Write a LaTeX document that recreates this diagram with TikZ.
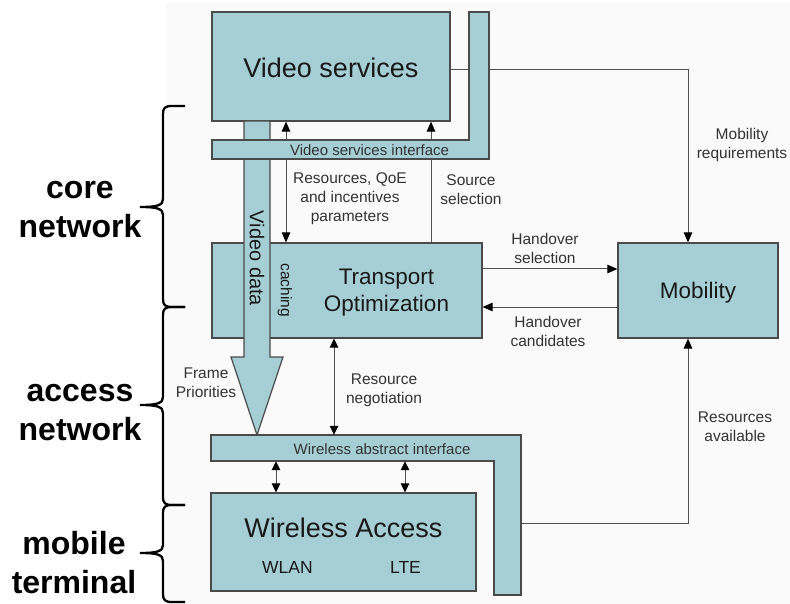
\documentclass[tikz,border=0pt]{standalone}
\usepackage{fontspec}
\setmainfont{Liberation Sans}
\usetikzlibrary{arrows.meta}
\definecolor{boxfill}{HTML}{A6CFD5}
\definecolor{boxline}{HTML}{4A4A4A}
\definecolor{bggray}{HTML}{FAFAFA}
\definecolor{lblcol}{HTML}{333333}
\definecolor{wirecol}{HTML}{505050}
\begin{document}
\begin{tikzpicture}[x=1pt,y=-1pt,
  box/.style={draw=boxline, line width=1.2pt, fill=boxfill, inner sep=0pt},
  shapeline/.style={draw=boxline, line width=1.2pt, fill=boxfill},
  lab/.style={text=lblcol, font=\fontsize{15.5}{19}\selectfont, align=center, inner sep=0pt},
  iflab/.style={text=lblcol, font=\fontsize{15}{17}\selectfont, inner sep=0pt},
  bigtxt/.style={text=black!90, font=\fontsize{27}{32}\selectfont, inner sep=0pt},
  midtxt/.style={text=black!90, font=\fontsize{22.5}{27}\selectfont, align=center, inner sep=0pt},
  sidelab/.style={text=black, font=\bfseries\fontsize{32}{39}\selectfont, align=center, inner sep=0pt},
  wire/.style={draw=wirecol, line width=1pt},
  tip/.style={-{Triangle[length=10pt,width=8.5pt,color=black]}},
  dtip/.style={{Triangle[length=9pt,width=8.5pt,color=black]}-{Triangle[length=9pt,width=8.5pt,color=black]}},
  brace/.style={draw=black, line width=2.3pt},
  ghost/.style={inner sep=0pt}
]
\useasboundingbox (0,0) rectangle (790,604);
\fill[white] (0,0) rectangle (790,604);
\fill[bggray] (166,2) rectangle (790,604);

% column / row helpers
\coordinate (xa) at (286,0);
\coordinate (xb) at (431,0);
\coordinate (xm) at (688,0);
\coordinate (xr) at (334,0);
\coordinate (xw1) at (276,0);
\coordinate (xw2) at (405,0);
\coordinate (yvm) at (0,70);
\coordinate (yhs) at (0,269);
\coordinate (yhc) at (0,307);
\coordinate (yra) at (0,523);

% main boxes
\node[box, minimum width=238pt, minimum height=109pt] (vs) at (331,66.5) {};
\node[bigtxt] (vst) at (331,68) {Video services};
\node[box, minimum width=270pt, minimum height=95pt] (to) at (347,290.5) {};
\node[box, minimum width=160pt, minimum height=95pt] (mob) at (698,290.5) {};
\node[midtxt] (mobt) at (698,293) {Mobility};
\node[box, minimum width=265pt, minimum height=98pt] (wa) at (343.5,542) {};
\node[bigtxt] (wat) at (343.5,528) {Wireless Access};
\node[text=black!90, font=\fontsize{17.5}{20}\selectfont, inner sep=0pt] (wlan) at (287.5,567) {WLAN};
\node[text=black!90, font=\fontsize{17.5}{20}\selectfont, inner sep=0pt] (lte) at (405.5,567) {LTE};

% video services -> mobility (under the interface bar)
\draw[wire,tip] (vs.east |- yvm) -- (xm |- yvm) -- (xm |- mob.north);

% video data arrow
\path[shapeline] (244,121) -- (270,121) -- (270,357) -- (283,357) -- (257,435) -- (231,357) -- (244,357) -- cycle;
\node[text=black!90, font=\fontsize{20}{24}\selectfont, inner sep=0pt, rotate=-90] (vdata) at (257,258.5) {Video data};

% video services interface (L shape)
\node[ghost, minimum width=277pt, minimum height=19pt] (vsi) at (350.5,149.5) {};
\path[shapeline] (212,140) -- (469,140) -- (469,12) -- (489,12) -- (489,159) -- (212,159) -- cycle;
\node[iflab] (vsit) at (369.5,150) {Video services interface};

% wireless abstract interface (L shape)
\node[ghost, minimum width=310pt, minimum height=26pt] (wai) at (366,448) {};
\node[ghost, minimum width=27pt, minimum height=160pt] (waib) at (507.5,515) {};
\path[shapeline] (211,435) -- (521,435) -- (521,595) -- (494,595) -- (494,461) -- (211,461) -- cycle;
\node[iflab] (wait) at (382,449) {Wireless abstract interface};

% transport optimization texts
\node[midtxt] (tot) at (386.5,293) {Transport\\Optimization};
\node[text=black!90, font=\fontsize{15.5}{19}\selectfont, inner sep=0pt, rotate=-90] (cach) at (285,290) {caching};

% connectors
\draw[wire,tip] (xa |- vsi.north) -- (xa |- vs.south);
\draw[wire,tip] (xa |- vsi.south) -- (xa |- to.north);
\draw[wire,tip] (xb |- vsi.north) -- (xb |- vs.south);
\draw[wire] (xb |- vsi.south) -- (xb |- to.north);
\draw[wire,tip] (to.east |- yhs) -- (mob.west |- yhs);
\draw[wire,tip] (mob.west |- yhc) -- (to.east |- yhc);
\draw[wire,dtip] (xr |- to.south) -- (xr |- wai.north);
\draw[wire,dtip] (xw1 |- wai.south) -- (xw1 |- wa.north);
\draw[wire,dtip] (xw2 |- wai.south) -- (xw2 |- wa.north);
\draw[wire,tip] (waib.east |- yra) -- (xm |- yra) -- (xm |- mob.south);

% labels
\node[lab] (l1) at (350,199) {Resources, QoE\\and incentives\\parameters};
\node[lab] (l2) at (471,190) {Source\\selection};
\node[lab] (l3) at (742,144.5) {Mobility\\requirements};
\node[lab] (l4) at (545,248) {Handover\\selection};
\node[lab] (l5) at (548,331) {Handover\\candidates};
\node[lab] (l6) at (206,382.5) {Frame\\Priorities};
\node[lab] (l7) at (384,390) {Resource\\negotiation};
\node[lab] (l8) at (735,426.5) {Resources\\available};

% braces
\draw[brace] (185,106) -- (172,106) .. controls (165,106) and (163,108) .. (163,114) -- (163,199) .. controls (163,205) and (158,207) .. (140,207) .. controls (158,207) and (163,209) .. (163,215) -- (163,299) .. controls (163,305) and (165,307) .. (172,307) -- (185,307);
\draw[brace] (185,307) -- (172,307) .. controls (165,307) and (163,309) .. (163,315) -- (163,397) .. controls (163,403) and (158,405) .. (140,405) .. controls (158,405) and (163,407) .. (163,413) -- (163,497) .. controls (163,503) and (165,505) .. (172,505) -- (185,505);
\draw[brace] (185,505) -- (172,505) .. controls (165,505) and (163,507) .. (163,513) -- (163,545) .. controls (163,551) and (158,553) .. (140,553) .. controls (158,553) and (163,555) .. (163,561) -- (163,594) .. controls (163,600) and (165,602) .. (172,602) -- (185,602);

\node[sidelab] (core) at (80,210) {core\\network};
\node[sidelab] (acc) at (80,413) {access\\network};
\node[sidelab] (mt) at (74,563) {mobile\\terminal};
\end{tikzpicture}
\end{document}
